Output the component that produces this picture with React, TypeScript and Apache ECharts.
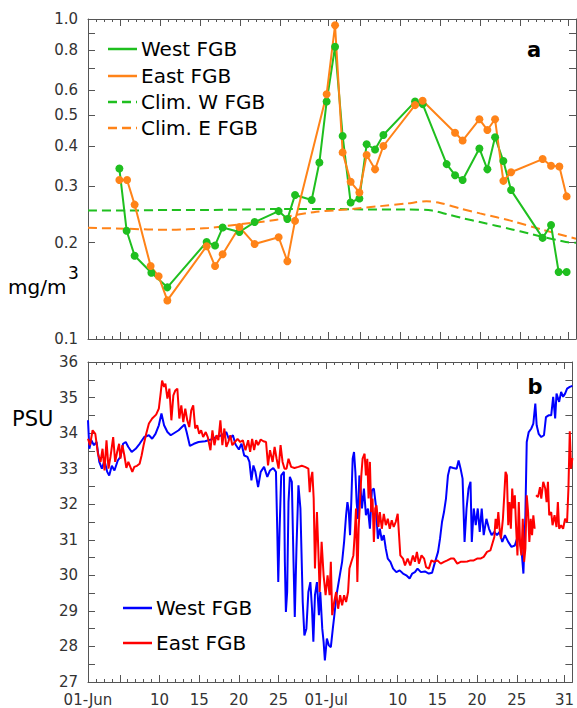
import { useEffect, useRef } from "react";
import * as echarts from "echarts";

// ---------- axis ticks / labels ----------
const MAJOR_TICK_DAYS = [0, 4, 9, 14, 19, 24, 30, 34, 39, 44, 49, 54, 60];
const LABEL_DAYS = [0, 9, 14, 19, 24, 30, 39, 44, 49, 54, 60];
const DAY_LABELS = ["01-Jun", "10", "15", "20", "25", "01-Jul", "10", "15", "20", "25", "31"];
const CHL_TICKS = [0.1, 0.2, 0.3, 0.4, 0.5, 0.6, 0.7, 0.8, 0.9, 1.0];
const CHL_LABELS = [0.1, 0.2, 0.3, 0.4, 0.5, 0.6, 0.8, 1.0];
const PSU_LABELS = [27, 28, 29, 30, 31, 32, 33, 34, 35, 36];

// ---------- panel a: chlorophyll (days since 01-Jun, mg/m3) ----------
const chlWestDays = [3.92, 4.83, 5.83, 7.92, 9.92, 14.83, 15.88, 16.83, 18.92, 20.83, 23.83, 24.92, 25.88, 27.96, 28.92, 29.83, 30.88, 31.83, 32.83, 33.92, 34.83, 35.88, 36.92, 40.88, 41.83, 44.83, 45.88, 46.83, 48.92, 49.92, 50.88, 51.92, 52.88, 56.83, 57.88, 58.83, 59.83];
const chlWestVals = [0.341, 0.218, 0.182, 0.161, 0.145, 0.201, 0.196, 0.223, 0.216, 0.232, 0.251, 0.237, 0.282, 0.272, 0.356, 0.552, 0.819, 0.431, 0.267, 0.275, 0.406, 0.391, 0.434, 0.552, 0.542, 0.352, 0.325, 0.314, 0.394, 0.339, 0.427, 0.36, 0.292, 0.207, 0.227, 0.162, 0.162];

const chlEastDays = [3.92, 4.88, 5.83, 7.83, 8.83, 9.92, 14.83, 15.88, 16.83, 18.92, 20.83, 23.83, 24.92, 25.88, 29.83, 30.88, 31.83, 32.83, 33.92, 34.83, 35.88, 36.92, 40.88, 41.83, 45.88, 46.83, 48.92, 49.92, 50.88, 51.92, 52.88, 56.83, 57.88, 58.92, 59.83];
const chlEastVals = [0.314, 0.314, 0.263, 0.169, 0.157, 0.132, 0.195, 0.169, 0.184, 0.224, 0.198, 0.208, 0.175, 0.234, 0.582, 0.956, 0.383, 0.31, 0.287, 0.376, 0.339, 0.401, 0.538, 0.555, 0.441, 0.417, 0.486, 0.45, 0.486, 0.312, 0.332, 0.365, 0.348, 0.346, 0.279];

const climWestDays = [0, 5, 10, 15, 20, 25, 30, 35, 40, 43, 45, 47, 49, 51, 53, 55, 57, 59, 60, 61];
const climWestVals = [0.252, 0.252, 0.253, 0.253, 0.254, 0.255, 0.255, 0.254, 0.254, 0.252, 0.245, 0.238, 0.232, 0.226, 0.22, 0.214, 0.208, 0.203, 0.2005, 0.2];

const climEastDays = [0, 5, 10, 15, 19, 23.6, 25, 28.2, 32.3, 36.5, 39.8, 42.3, 44, 46.5, 49, 53.2, 56.9, 61];
const climEastVals = [0.2226, 0.221, 0.2193, 0.2222, 0.2283, 0.236, 0.2415, 0.2491, 0.254, 0.2601, 0.265, 0.2693, 0.2662, 0.2558, 0.2469, 0.233, 0.2192, 0.2058];

// ---------- panel b: salinity (days since 01-Jun, PSU) ----------
const salWest: [number, number][] = [
  [0, 34.36], [0.17, 33.56], [0.42, 33.8], [0.75, 33.66], [1.08, 33.75], [1.42, 33.19], [1.75, 33.0], [2.08, 33.23], [2.42, 32.91], [2.67, 32.81],
  [3.0, 33.08], [3.33, 32.95], [3.75, 33.23], [4.08, 33.33], [4.42, 33.7], [4.75, 33.75], [5.08, 33.61], [5.5, 33.47], [6.0, 33.56], [6.5, 33.7],
  [7.08, 33.89], [7.67, 33.94], [8.08, 33.84], [8.5, 33.98], [8.92, 34.22], [9.25, 34.55], [9.58, 34.22], [10.0, 34.03], [10.42, 33.94], [10.92, 34.01],
  [11.42, 34.08], [11.83, 34.17], [12.17, 34.24], [12.42, 34.03], [12.83, 33.64], [13.33, 33.7], [13.92, 33.75], [14.75, 33.77], [15.5, 33.82], [16.17, 33.89],
  [16.83, 33.94], [17.42, 34.03], [17.75, 33.82], [18.25, 33.94], [18.58, 33.68], [19.0, 33.54], [19.33, 33.7], [19.67, 33.37], [20.08, 33.33], [20.33, 33.19],
  [20.58, 32.67], [20.83, 33.09], [21.08, 32.91], [21.42, 32.48], [21.75, 32.91], [22.17, 33.05], [22.58, 32.77], [22.92, 32.95], [23.33, 33.02], [23.67, 32.91],
  [23.83, 31.31], [23.96, 29.81], [24.13, 31.31], [24.33, 32.81], [24.67, 32.91], [24.79, 30.38], [24.92, 28.97], [25.08, 29.53], [25.25, 32.06], [25.42, 32.77],
  [25.67, 32.63], [25.88, 30.38], [26.04, 28.83], [26.25, 30.75], [26.5, 32.53], [26.75, 31.88], [27.04, 29.25], [27.25, 28.31], [27.5, 28.5], [27.75, 29.53],
  [28.0, 29.81], [28.21, 29.06], [28.38, 28.13], [28.58, 29.44], [28.83, 29.81], [29.08, 28.88], [29.25, 29.53], [29.5, 28.5], [29.67, 28.13], [29.83, 27.61],
  [30.08, 28.22], [30.33, 28.03], [30.58, 27.98], [30.83, 28.5], [31.0, 28.83], [31.29, 29.44], [31.71, 30.0], [32.0, 30.38], [32.25, 30.94], [32.5, 31.69],
  [32.67, 32.06], [32.83, 31.83], [33.0, 31.13], [33.17, 32.16], [33.33, 33.28], [33.5, 33.47], [33.67, 32.91], [33.83, 32.06], [34.0, 31.59], [34.17, 32.81],
  [34.33, 32.44], [34.5, 31.88], [34.75, 32.44], [35.0, 31.69], [35.25, 31.88], [35.5, 31.31], [35.75, 32.39], [36.0, 32.44], [36.25, 31.97], [36.5, 31.03],
  [36.75, 31.31], [37.0, 30.98], [37.25, 31.13], [37.5, 30.75], [37.75, 30.47], [38.08, 30.38], [38.42, 30.19], [38.83, 30.09], [39.25, 30.14], [39.67, 30.05],
  [40.08, 30.0], [40.5, 29.91], [40.83, 30.05], [41.17, 30.09], [41.5, 30.19], [41.92, 30.09], [42.42, 30.11], [42.92, 30.05], [43.33, 30.07], [43.58, 30.28],
  [43.83, 30.47], [44.08, 30.66], [44.33, 31.03], [44.58, 31.5], [44.83, 31.78], [45.08, 32.16], [45.33, 32.81], [45.58, 33.05], [46.0, 33.02], [46.42, 33.0],
  [46.67, 33.23], [46.92, 33.0], [47.17, 32.72], [47.42, 30.94], [47.67, 31.88], [47.92, 32.44], [48.17, 32.63], [48.33, 30.94], [48.58, 31.88], [48.83, 31.41],
  [49.08, 31.88], [49.33, 31.22], [49.58, 31.88], [49.83, 31.13], [50.17, 31.59], [50.5, 31.31], [50.83, 31.13], [51.17, 31.22], [51.5, 31.13], [51.83, 31.22],
  [52.17, 30.94], [52.5, 31.13], [52.92, 30.94], [53.33, 30.8], [53.75, 30.84], [54.17, 31.13], [54.58, 30.75], [54.83, 30.05], [55.08, 31.69], [55.25, 33.75],
  [55.5, 34.03], [55.83, 34.13], [56.08, 34.27], [56.33, 34.83], [56.5, 34.22], [56.75, 33.98], [57.08, 33.89], [57.42, 33.94], [57.67, 34.45], [58.0, 34.5],
  [58.33, 34.5], [58.58, 35.02], [58.83, 34.41], [59.0, 35.11], [59.33, 34.88], [59.58, 35.16], [59.83, 35.02], [60.08, 35.11], [60.33, 35.25], [60.67, 35.3],
  [61.0, 35.33],
];

const salEast: ([number, number] | [number, string])[] = [
  [0, 33.84], [0.25, 33.66], [0.58, 34.08], [0.92, 33.98], [1.25, 33.42], [1.58, 33.19], [1.83, 33.56], [2.08, 32.95], [2.33, 33.8], [2.58, 33.0],
  [2.83, 33.33], [3.17, 33.89], [3.42, 33.19], [3.67, 33.47], [3.92, 33.7], [4.08, 33.28], [4.33, 33.66], [4.58, 33.37], [4.83, 33.02], [5.08, 33.19],
  [5.33, 33.05], [5.58, 32.91], [5.83, 33.05], [6.17, 33.08], [6.5, 33.14], [6.75, 33.37], [7.0, 33.66], [7.33, 33.98], [7.67, 34.27], [8.08, 34.41],
  [8.58, 34.52], [8.92, 34.69], [9.17, 35.16], [9.33, 35.48], [9.58, 35.3], [9.75, 35.39], [10.0, 34.97], [10.25, 35.25], [10.5, 34.36], [10.75, 35.06],
  [11.0, 35.2], [11.25, 35.25], [11.5, 34.41], [11.75, 34.78], [12.0, 34.31], [12.25, 34.69], [12.5, 34.36], [12.75, 34.17], [13.0, 34.64], [13.25, 34.78],
  [13.5, 34.13], [13.75, 34.22], [14.0, 33.98], [14.25, 34.08], [14.5, 33.89], [14.83, 34.03], [15.08, 33.89], [15.42, 33.52], [15.67, 34.08], [15.92, 33.66],
  [16.17, 33.94], [16.42, 33.8], [16.67, 34.36], [16.92, 33.66], [17.17, 34.13], [17.42, 33.61], [17.67, 33.75], [17.92, 33.94], [18.17, 33.66], [18.5, 33.75],
  [18.83, 33.84], [19.17, 33.75], [19.5, 33.8], [19.83, 33.52], [20.17, 33.8], [20.42, 33.47], [20.67, 33.84], [20.92, 33.52], [21.17, 33.8], [21.42, 33.66],
  [21.75, 33.82], [22.08, 33.77], [22.42, 33.75], [22.67, 33.09], [22.92, 33.52], [23.25, 33.19], [23.5, 33.61], [23.75, 33.28], [24.0, 33.0], [24.25, 33.66],
  [24.5, 33.19], [24.75, 33.0], [25.0, 33.0], [25.25, 33.28], [25.58, 33.05], [26.0, 33.02], [26.5, 33.05], [26.92, 33.08], [27.33, 33.05], [27.75, 33.0],
  [27.92, 32.34], [28.08, 32.72], [28.25, 32.91], [28.42, 32.16], [28.58, 30.19], [28.83, 31.78], [29.0, 30.75], [29.17, 29.53], [29.42, 30.94], [29.67, 30.0],
  [29.92, 29.44], [30.17, 30.0], [30.42, 29.44], [30.58, 30.38], [30.75, 28.88], [31.0, 29.25], [31.25, 29.53], [31.5, 29.06], [31.75, 29.44], [32.0, 29.16],
  [32.25, 29.44], [32.5, 29.25], [32.75, 29.53], [32.92, 30.19], [33.17, 30.38], [33.42, 30.56], [33.58, 31.13], [33.75, 31.88], [33.92, 29.81], [34.08, 31.31],
  [34.25, 32.06], [34.42, 32.81], [34.58, 33.28], [34.83, 33.42], [35.0, 32.81], [35.17, 33.28], [35.33, 32.16], [35.5, 33.19], [35.67, 31.78], [35.83, 32.16],
  [36.0, 30.94], [36.17, 31.88], [36.33, 31.97], [36.58, 31.36], [36.75, 31.78], [37.0, 31.31], [37.25, 31.73], [37.5, 31.41], [37.75, 31.59], [38.0, 31.31],
  [38.25, 31.55], [38.5, 31.36], [38.75, 31.5], [39.0, 31.73], [39.17, 31.13], [39.33, 30.56], [39.67, 30.47], [39.92, 30.28], [40.25, 30.47], [40.58, 30.28],
  [40.92, 30.56], [41.17, 30.38], [41.42, 30.66], [41.67, 30.33], [42.0, 30.56], [42.33, 30.47], [42.58, 30.23], [42.92, 30.19], [43.25, 30.42], [43.58, 30.38],
  [44.0, 30.42], [44.42, 30.33], [44.83, 30.38], [45.25, 30.42], [45.67, 30.47], [46.08, 30.47], [46.5, 30.33], [46.92, 30.38], [47.33, 30.38], [47.75, 30.39],
  [48.17, 30.42], [48.58, 30.42], [49.0, 30.47], [49.42, 30.47], [49.83, 30.52], [50.25, 30.66], [50.67, 30.7], [50.92, 30.89], [51.17, 31.08], [51.33, 31.59],
  [51.5, 31.31], [51.67, 31.78], [51.83, 31.31], [52.0, 31.03], [52.25, 31.59], [52.42, 32.25], [52.58, 32.91], [52.75, 32.81], [52.92, 31.41], [53.08, 32.06],
  [53.25, 31.31], [53.42, 32.44], [53.58, 31.88], [53.75, 32.25], [53.92, 31.31], [54.08, 30.56], [54.25, 32.06], [54.42, 30.84], [54.58, 30.56], [54.75, 31.59],
  [54.92, 30.38], [55.08, 30.75], [55.25, 32.25], [55.42, 31.78], [55.58, 30.94], [55.75, 31.59], [55.92, 31.13], [56.08, 31.69], [56.25, 31.31], [56.33, "-"],
  [56.42, 32.25], [56.67, 32.2], [56.92, 32.48], [57.08, 32.16], [57.33, 32.63], [57.58, 32.44], [57.75, 32.06], [57.92, 32.63], [58.08, 31.69], [58.33, 31.78],
  [58.5, 31.41], [58.75, 31.69], [59.0, 31.36], [59.17, 32.06], [59.33, 31.31], [59.58, 31.41], [59.83, 31.31], [60.08, 31.59], [60.33, 31.5], [60.5, 32.44],
  [60.67, 34.05], [60.83, 33.0], [61.0, 33.3],
];

const GREEN = "#1fbf1f";
const ORANGE = "#ff8318";
const BLUE = "#0000ff";
const RED = "#ff0000";
const AXIS = "#555555";
const LABEL = "#333333";
const FONT = "DejaVu Sans";

const zip = (a: number[], b: number[]) => a.map((d, i) => [d, b[i]]);

function xAxesFor(gridIndex: number, withLabels: boolean) {
  const base = { type: "value", gridIndex, min: 0, max: 61, splitLine: { show: false } };
  const line = { show: true, onZero: false, lineStyle: { color: AXIS, width: 1 } };
  const tick = (length: number, extra: any = {}) => ({ show: true, inside: true, length, lineStyle: { color: AXIS, width: 1 }, ...extra });
  return [
    { ...base, position: "bottom", interval: 1, axisLine: line, axisTick: tick(3), axisLabel: { show: false } },
    {
      ...base, position: "bottom", axisLine: { show: false, onZero: false },
      axisTick: tick(7, { customValues: MAJOR_TICK_DAYS }),
      axisLabel: withLabels
        ? {
            show: true, customValues: LABEL_DAYS, margin: 10, fontSize: 15, color: LABEL, fontFamily: FONT,
            formatter: (v: number) => DAY_LABELS[LABEL_DAYS.indexOf(Math.round(v))] ?? "",
          }
        : { show: false },
    },
    { ...base, position: "top", interval: 1, axisLine: line, axisTick: tick(3), axisLabel: { show: false } },
    { ...base, position: "top", axisLine: { show: false, onZero: false }, axisTick: tick(7, { customValues: MAJOR_TICK_DAYS }), axisLabel: { show: false } },
  ];
}

export default function App() {
  const ref = useRef<HTMLDivElement>(null);
  useEffect(() => {
    if (!ref.current) return;
    const chart = echarts.init(ref.current, undefined, { renderer: "svg" });
    const line = { show: true, onZero: false, lineStyle: { color: AXIS, width: 1 } };
    const yTick = (values?: number[]) => ({ show: true, inside: true, length: 7, lineStyle: { color: AXIS, width: 1 }, ...(values ? { customValues: values } : {}) });
    const labelStyle = { fontSize: 15, color: LABEL, fontFamily: FONT, margin: 10 };

    const legendItem = (x: number, y: number, text: string, color: string, dashed: boolean) => [
      { type: "line", z: 100, shape: { x1: x, y1: y, x2: x + 29, y2: y }, style: { stroke: color, lineWidth: 2.5, lineDash: dashed ? [9, 5] : null } },
      { type: "text", z: 100, x: x + 33, y, style: { text, fontSize: 20, fontFamily: FONT, fill: "#000", textAlign: "left", textVerticalAlign: "middle" } },
    ];

    const option: any = {
      animation: false,
      backgroundColor: "#ffffff",
      grid: [
        { left: 88, top: 19, width: 488, height: 320, containLabel: false },
        { left: 88, top: 362, width: 488, height: 320, containLabel: false },
      ],
      xAxis: [...xAxesFor(0, false), ...xAxesFor(1, true)],
      yAxis: [
        {
          type: "log", logBase: 10, gridIndex: 0, min: 0.1, max: 1, position: "left",
          axisLine: line, axisTick: yTick(CHL_TICKS), splitLine: { show: false },
          axisLabel: { ...labelStyle, customValues: CHL_LABELS, formatter: (v: number) => v.toFixed(1) },
        },
        {
          type: "log", logBase: 10, gridIndex: 0, min: 0.1, max: 1, position: "right",
          axisLine: line, axisTick: yTick(CHL_TICKS), splitLine: { show: false }, axisLabel: { show: false },
        },
        {
          type: "value", gridIndex: 1, min: 27, max: 36, interval: 0.5, position: "left",
          axisLine: line, axisTick: yTick(), splitLine: { show: false },
          axisLabel: { ...labelStyle, customValues: PSU_LABELS, formatter: (v: number) => String(v) },
        },
        {
          type: "value", gridIndex: 1, min: 27, max: 36, interval: 0.5, position: "right",
          axisLine: line, axisTick: yTick(), splitLine: { show: false }, axisLabel: { show: false },
        },
      ],
      series: [
        {
          name: "Clim. W FGB", type: "line", xAxisIndex: 0, yAxisIndex: 0, data: zip(climWestDays, climWestVals),
          showSymbol: false, symbol: "none", smooth: 0.3, lineStyle: { color: GREEN, width: 2, type: [9, 5] }, itemStyle: { color: GREEN },
        },
        {
          name: "Clim. E FGB", type: "line", xAxisIndex: 0, yAxisIndex: 0, data: zip(climEastDays, climEastVals),
          showSymbol: false, symbol: "none", smooth: 0.3, lineStyle: { color: ORANGE, width: 2, type: [9, 5] }, itemStyle: { color: ORANGE },
        },
        {
          name: "West FGB", type: "line", xAxisIndex: 0, yAxisIndex: 0, data: zip(chlWestDays, chlWestVals),
          symbol: "circle", symbolSize: 8, lineStyle: { color: GREEN, width: 2 }, itemStyle: { color: GREEN },
        },
        {
          name: "East FGB", type: "line", xAxisIndex: 0, yAxisIndex: 0, data: zip(chlEastDays, chlEastVals),
          symbol: "circle", symbolSize: 8, lineStyle: { color: ORANGE, width: 2 }, itemStyle: { color: ORANGE },
        },
        {
          name: "West FGB salinity", type: "line", xAxisIndex: 4, yAxisIndex: 2, data: salWest,
          showSymbol: false, symbol: "none", lineStyle: { color: BLUE, width: 2 }, itemStyle: { color: BLUE },
        },
        {
          name: "East FGB salinity", type: "line", xAxisIndex: 4, yAxisIndex: 2, data: salEast, connectNulls: false,
          showSymbol: false, symbol: "none", lineStyle: { color: RED, width: 2 }, itemStyle: { color: RED },
        },
      ],
      graphic: [
        ...legendItem(108, 49, "West FGB", GREEN, false),
        ...legendItem(108, 76, "East FGB", ORANGE, false),
        ...legendItem(108, 102, "Clim. W FGB", GREEN, true),
        ...legendItem(108, 128, "Clim. E FGB", ORANGE, true),
        ...legendItem(123, 608, "West FGB", BLUE, false),
        ...legendItem(123, 643, "East FGB", RED, false),
        { type: "text", z: 100, x: 534, y: 50, style: { text: "a", fontSize: 21, fontWeight: "bold", fontFamily: FONT, fill: "#000", textAlign: "center", textVerticalAlign: "middle" } },
        { type: "text", z: 100, x: 535, y: 387, style: { text: "b", fontSize: 21, fontWeight: "bold", fontFamily: FONT, fill: "#000", textAlign: "center", textVerticalAlign: "middle" } },
        { type: "text", z: 100, x: 8, y: 287, style: { text: "mg/m", fontSize: 20, fontFamily: FONT, fill: "#000", textAlign: "left", textVerticalAlign: "middle" } },
        { type: "text", z: 100, x: 68, y: 273, style: { text: "3", fontSize: 17, fontFamily: FONT, fill: "#000", textAlign: "left", textVerticalAlign: "middle" } },
        { type: "text", z: 100, x: 12, y: 419, style: { text: "PSU", fontSize: 21, fontFamily: FONT, fill: "#000", textAlign: "left", textVerticalAlign: "middle" } },
      ],
    };
    chart.setOption(option);
    return () => chart.dispose();
  }, []);
  return <div ref={ref} style={{ position: "absolute", left: 0, top: 0, width: 577, height: 708, background: "#fff" }} />;
}
